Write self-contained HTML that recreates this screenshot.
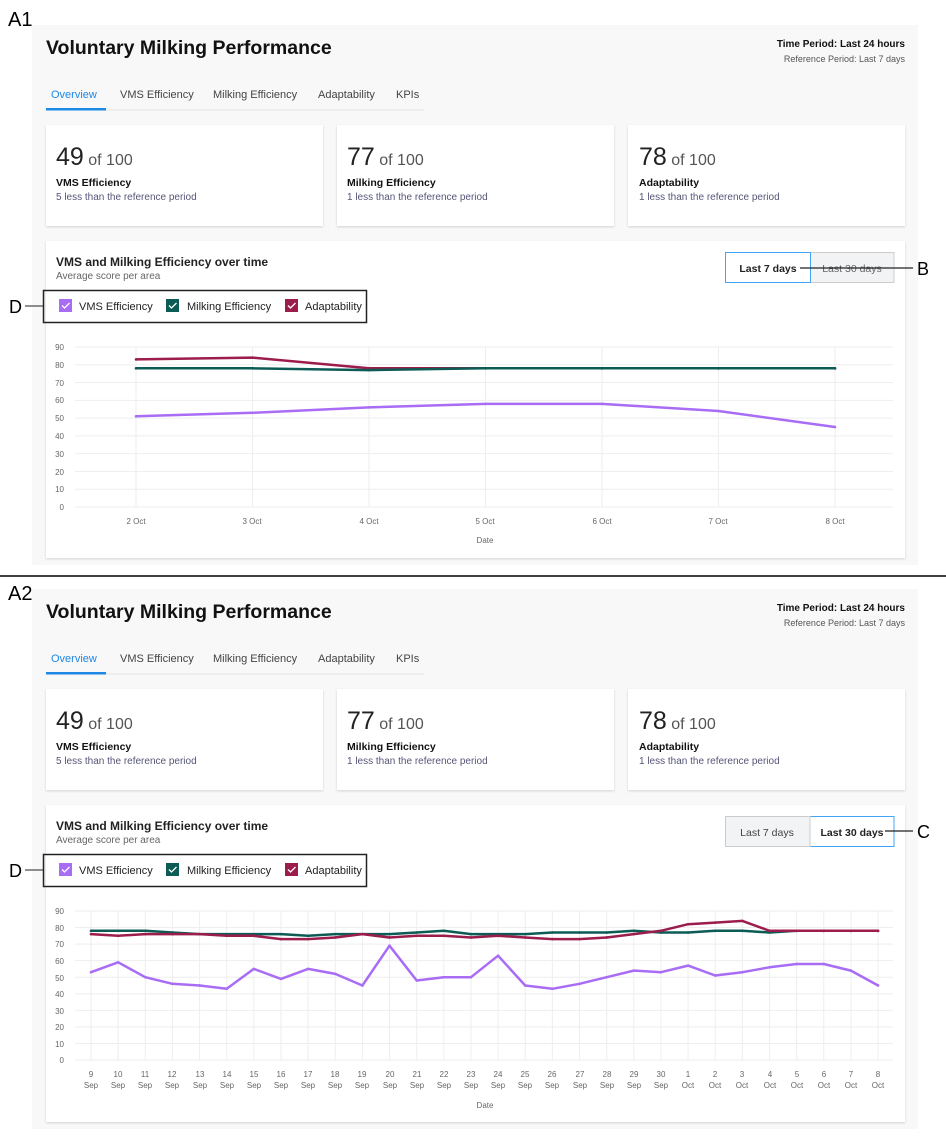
<!DOCTYPE html>
<html><head><meta charset="utf-8"><style>
body{margin:0;background:#fff;}
svg{display:block;font-family:"Liberation Sans",sans-serif;}
</style></head><body>
<svg id="s" width="946" height="1137" viewBox="0 0 946 1137" xmlns="http://www.w3.org/2000/svg">
<defs>
<filter id="sh" x="-5%" y="-5%" width="110%" height="120%"><feDropShadow dx="0" dy="1" stdDeviation="1.2" flood-color="#000" flood-opacity="0.15"/></filter>
</defs>
<text x="8" y="26" font-size="20" fill="#000">A1</text>
<text x="8" y="600" font-size="20" fill="#000">A2</text>
<line x1="0" y1="576" x2="946" y2="576" stroke="#000" stroke-width="1.5"/>

<!-- Panel A1 -->
<g id="p1">
<rect x="32" y="25" width="886" height="540" fill="#f8f8f8"/>
<text x="46" y="54" font-size="19.5" font-weight="bold" fill="#111">Voluntary Milking Performance</text>
<text x="905" y="47" font-size="10" font-weight="bold" text-anchor="end" fill="#111">Time Period: Last 24 hours</text>
<text x="905" y="62" font-size="9" text-anchor="end" fill="#555">Reference Period: Last 7 days</text>
<text x="51" y="98" font-size="11" fill="#1e88e5">Overview</text>
<text x="120" y="98" font-size="11" fill="#444">VMS Efficiency</text>
<text x="213" y="98" font-size="11" fill="#444">Milking Efficiency</text>
<text x="318" y="98" font-size="11" fill="#444">Adaptability</text>
<text x="396" y="98" font-size="11" fill="#444">KPIs</text>
<line x1="46" y1="110" x2="424" y2="110" stroke="#e4e4e4"/>
<rect x="46" y="108" width="60" height="2.5" fill="#1e88e5"/>
<rect x="46" y="125" width="277" height="101" fill="#fff" filter="url(#sh)"/>
<rect x="337" y="125" width="277" height="101" fill="#fff" filter="url(#sh)"/>
<rect x="628" y="125" width="277" height="101" fill="#fff" filter="url(#sh)"/>
<text x="56" y="165" fill="#222"><tspan font-size="25">49</tspan><tspan font-size="16" fill="#555"> of 100</tspan></text>
<text x="56" y="186" font-size="10.5" font-weight="bold" fill="#111">VMS Efficiency</text>
<text x="56" y="200" font-size="10" fill="#557">5 less than the reference period</text>
<text x="347" y="165" fill="#222"><tspan font-size="25">77</tspan><tspan font-size="16" fill="#555"> of 100</tspan></text>
<text x="347" y="186" font-size="10.5" font-weight="bold" fill="#111">Milking Efficiency</text>
<text x="347" y="200" font-size="10" fill="#557">1 less than the reference period</text>
<text x="639" y="165" fill="#222"><tspan font-size="25">78</tspan><tspan font-size="16" fill="#555"> of 100</tspan></text>
<text x="639" y="186" font-size="10.5" font-weight="bold" fill="#111">Adaptability</text>
<text x="639" y="200" font-size="10" fill="#557">1 less than the reference period</text>
<rect x="46" y="241" width="859" height="317" fill="#fff" filter="url(#sh)"/>
<text x="56" y="266" font-size="12" font-weight="bold" fill="#222">VMS and Milking Efficiency over time</text>
<text x="56" y="279" font-size="10" fill="#666">Average score per area</text>
<rect x="43.5" y="290.5" width="323" height="32" fill="none" stroke="#222" stroke-width="1.5"/>
<line x1="25" y1="306" x2="43" y2="306" stroke="#222"/>
<text x="9" y="313" font-size="18" fill="#000">D</text>
<rect x="59" y="299" width="13" height="13" fill="#a86cf5"/><path d="M62 305.5l2.5 2.5 5-5" stroke="#fff" stroke-width="1.3" fill="none"/>
<text x="79" y="310" font-size="11" fill="#222">VMS Efficiency</text>
<rect x="166" y="299" width="13" height="13" fill="#0c5c55"/><path d="M169 305.5l2.5 2.5 5-5" stroke="#fff" stroke-width="1.3" fill="none"/>
<text x="187" y="310" font-size="11" fill="#222">Milking Efficiency</text>
<rect x="285" y="299" width="13" height="13" fill="#9c1c4c"/><path d="M288 305.5l2.5 2.5 5-5" stroke="#fff" stroke-width="1.3" fill="none"/>
<text x="305" y="310" font-size="11" fill="#222">Adaptability</text>
</g>
<!-- A1 buttons -->
<rect x="810" y="252.5" width="84" height="30" fill="#f2f3f5" stroke="#ccc"/>
<text x="852" y="272" font-size="10.5" text-anchor="middle" fill="#666">Last 30 days</text>
<rect x="725.5" y="252.5" width="85" height="30" fill="#fff" stroke="#42a5f5"/>
<text x="768" y="272" font-size="10.5" font-weight="bold" text-anchor="middle" fill="#222">Last 7 days</text>
<line x1="800" y1="268" x2="913" y2="268" stroke="#222" stroke-width="1.2"/>
<text x="917" y="275" font-size="18" fill="#000">B</text>

<use href="#p1" transform="translate(0,564)"/>
<rect x="810" y="816.5" width="84" height="30" fill="#fff" stroke="#42a5f5"/>
<text x="852" y="836" font-size="10.5" font-weight="bold" text-anchor="middle" fill="#222">Last 30 days</text>
<rect x="725.5" y="816.5" width="84.5" height="30" fill="#f2f3f5" stroke="#ccc"/>
<text x="767" y="836" font-size="10.5" text-anchor="middle" fill="#444">Last 7 days</text>
<line x1="885" y1="831" x2="913" y2="831" stroke="#222" stroke-width="1.2"/>
<text x="917" y="838" font-size="18" fill="#000">C</text>

<!-- A1 chart -->
<g id="g1" stroke="#eee" stroke-width="1"></g>
<g font-size="8" fill="#666" text-anchor="end">
<text x="64" y="350">90</text><text x="64" y="368">80</text><text x="64" y="386">70</text><text x="64" y="403">60</text><text x="64" y="421">50</text><text x="64" y="439">40</text><text x="64" y="457">30</text><text x="64" y="475">20</text><text x="64" y="492">10</text><text x="64" y="510">0</text>
</g>
<g font-size="8" fill="#666" text-anchor="middle">
<text x="136" y="524">2 Oct</text><text x="252" y="524">3 Oct</text><text x="369" y="524">4 Oct</text><text x="485" y="524">5 Oct</text><text x="602" y="524">6 Oct</text><text x="718" y="524">7 Oct</text><text x="835" y="524">8 Oct</text>
<text x="485" y="543">Date</text>
</g>
<g id="l1" fill="none" stroke-width="2.5" stroke-linejoin="round"></g>

<!-- A2 chart -->
<g id="g2" stroke="#eee" stroke-width="1"></g>
<g font-size="8" fill="#666" text-anchor="end">
<text x="64" y="914">90</text><text x="64" y="931">80</text><text x="64" y="947">70</text><text x="64" y="964">60</text><text x="64" y="981">50</text><text x="64" y="997">40</text><text x="64" y="1014">30</text><text x="64" y="1030">20</text><text x="64" y="1047">10</text><text x="64" y="1063">0</text>
</g>
<g font-size="8" fill="#666" text-anchor="middle">
<text x="91" y="1077">9</text><text x="118" y="1077">10</text><text x="145" y="1077">11</text><text x="172" y="1077">12</text><text x="200" y="1077">13</text><text x="227" y="1077">14</text><text x="254" y="1077">15</text><text x="281" y="1077">16</text><text x="308" y="1077">17</text><text x="335" y="1077">18</text><text x="362" y="1077">19</text><text x="390" y="1077">20</text><text x="417" y="1077">21</text><text x="444" y="1077">22</text><text x="471" y="1077">23</text><text x="498" y="1077">24</text><text x="525" y="1077">25</text><text x="552" y="1077">26</text><text x="580" y="1077">27</text><text x="607" y="1077">28</text><text x="634" y="1077">29</text><text x="661" y="1077">30</text><text x="688" y="1077">1</text><text x="715" y="1077">2</text><text x="742" y="1077">3</text><text x="770" y="1077">4</text><text x="797" y="1077">5</text><text x="824" y="1077">6</text><text x="851" y="1077">7</text><text x="878" y="1077">8</text>
<text x="91" y="1088">Sep</text><text x="118" y="1088">Sep</text><text x="145" y="1088">Sep</text><text x="172" y="1088">Sep</text><text x="200" y="1088">Sep</text><text x="227" y="1088">Sep</text><text x="254" y="1088">Sep</text><text x="281" y="1088">Sep</text><text x="308" y="1088">Sep</text><text x="335" y="1088">Sep</text><text x="362" y="1088">Sep</text><text x="390" y="1088">Sep</text><text x="417" y="1088">Sep</text><text x="444" y="1088">Sep</text><text x="471" y="1088">Sep</text><text x="498" y="1088">Sep</text><text x="525" y="1088">Sep</text><text x="552" y="1088">Sep</text><text x="580" y="1088">Sep</text><text x="607" y="1088">Sep</text><text x="634" y="1088">Sep</text><text x="661" y="1088">Sep</text><text x="688" y="1088">Oct</text><text x="715" y="1088">Oct</text><text x="742" y="1088">Oct</text><text x="770" y="1088">Oct</text><text x="797" y="1088">Oct</text><text x="824" y="1088">Oct</text><text x="851" y="1088">Oct</text><text x="878" y="1088">Oct</text>
<text x="485" y="1108">Date</text>
</g>
<g id="l2" fill="none" stroke-width="2.5" stroke-linejoin="round"></g>
</svg>
<script>
var NS="http://www.w3.org/2000/svg";
function el(p,t,a){var e=document.createElementNS(NS,t);for(var k in a)e.setAttribute(k,a[k]);p.appendChild(e);return e;}
function chart(gid,lid,x0,step,n,y0,pp,series,xl,xr){
 var g=document.getElementById(gid),l=document.getElementById(lid);
 for(var v=0;v<=90;v+=10){var y=y0-v*pp;el(g,"line",{x1:xl,x2:xr,y1:y,y2:y});}
 for(var i=0;i<n;i++){var x=x0+i*step;el(g,"line",{x1:x,x2:x,y1:y0-90*pp,y2:y0});}
 series.forEach(function(s){var pts=s.d.map(function(v,i){return (x0+i*step).toFixed(1)+","+(y0-v*pp).toFixed(1);}).join(" ");
  el(l,"polyline",{points:pts,stroke:s.c});
  s.d.forEach(function(v,i){el(l,"circle",{cx:x0+i*step,cy:y0-v*pp,r:1.3,fill:s.c,stroke:"none"});});});
}
chart("g1","l1",136,116.5,7,507,1.778,[
 {c:"#a86cf5",d:[51,53,56,58,58,54,45]},
 {c:"#9c1c4c",d:[83,84,78,78,78,78,78]},
 {c:"#0c5c55",d:[78,78,77,78,78,78,78]}],75,893);
chart("g2","l2",91,27.14,30,1060,1.656,[
 {c:"#a86cf5",d:[53,59,50,46,45,43,55,49,55,52,45,69,48,50,50,63,45,43,46,50,54,53,57,51,53,56,58,58,54,45]},
 {c:"#0c5c55",d:[78,78,78,77,76,76,76,76,75,76,76,76,77,78,76,76,76,77,77,77,78,77,77,78,78,77,78,78,78,78]},
 {c:"#9c1c4c",d:[76,75,76,76,76,75,75,73,73,74,76,74,75,75,74,75,74,73,73,74,76,78,82,83,84,78,78,78,78,78]}],75,893);
</script>
</body></html>
